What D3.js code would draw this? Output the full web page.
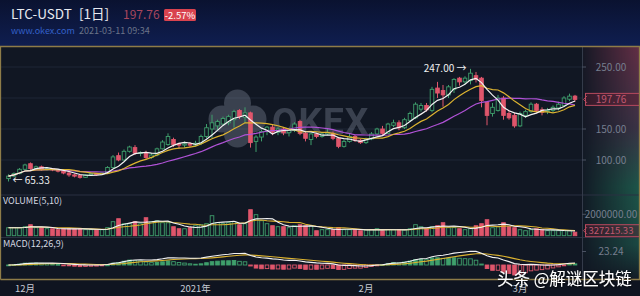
<!DOCTYPE html>
<html>
<head>
<meta charset="utf-8">
<script src="https://cdn.jsdelivr.net/npm/d3@7"></script>
<style>
  html, body { margin: 0; padding: 0; background: #0f1420; }
  svg { display: block; font-family: "Noto Sans CJK SC", "Noto Sans", sans-serif; }
</style>
</head>
<body>
<svg id="chart"></svg>
<script>
// LTC-USDT daily candles, 2020-11-28 .. 2021-03-11
const dates = d3.utcDay.range(new Date(Date.UTC(2020, 10, 28)), new Date(Date.UTC(2021, 2, 12)));

const opens = [70,74,78,85,94,86,89,85,86,84, 82,79,76,75,72,76,78,77,79,88,
  107,100,114,120,111,112,104,108,118,125, 133,126,124,126,124,127,138,150,155,158,
  160,165,180,169,176,130,137,146,153,145, 150,144,148,162,143,133,142,138,142,143,
  135,122,130,138,132,128,134,142,150,143, 156,160,152,164,168,182,188,180,216,212,
  205,214,232,226,228,236,232,193,175,180, 200,175,172,155,172,178,190,181,178,180,
  184,188,198,203];
const highs = [77,80,87,94,96,91,91,88,87,85, 84,81,78,76,77,80,79,80,90,108,
  112,117,123,124,114,115,111,120,132,143, 136,128,130,129,131,141,158,173,165,170,
  173,181,182,185,178,140,149,155,158,153, 153,150,161,165,145,144,144,145,150,146,
  137,133,142,140,134,136,145,152,155,160, 165,164,168,178,193,192,192,218,226,221,
  221,232,234,235,247,242,234,195,192,205, 203,180,176,178,181,193,192,185,184,188,
  194,203,207,205];
const lows = [65.33,72,77,83,84,84,83,83,82,80, 77,73,72,70,71,75,75,76,78,87,
  98,99,112,108,106,100,102,106,117,123, 121,118,120,121,122,124,135,135,148,155,
  156,152,166,160,120,113,130,140,140,140, 140,138,145,140,130,124,135,136,140,132,
  119,120,128,129,126,126,132,140,140,142, 153,148,150,162,166,178,178,177,200,186,
  200,208,220,222,222,225,185,156,170,178, 165,165,152,153,168,176,176,172,174,177,
  180,186,195,194];
const closes = [74,78,85,92,86,89,85,86,84,82, 79,76,74,72,76,78,77,79,88,105,
  100,114,121,111,112,104,108,118,129,138, 125,124,126,124,127,138,152,160,162,167,
  170,178,170,176,128,137,146,153,145,150, 144,148,158,143,135,142,138,142,144,135,
  122,130,138,132,128,134,142,150,143,158, 160,152,165,175,190,188,181,214,208,205,
  218,230,226,232,240,230,196,172,185,200, 172,168,155,175,178,190,180,177,180,185,
  190,200,203,197.76];
const volumes = [748000,752000,745000,841000,1028000,748000,750000,654000,650000,561000,
  654000,658000,650000,656000,561000,565000,560000,558000,748000,1308000,
  1589000,1121000,1125000,1308000,1121000,1682000,1308000,1402000,1215000,1210000,
  841000,654000,650000,748000,935000,1028000,1121000,1869000,1215000,1121000,
  1215000,1308000,1028000,1121000,2430000,1963000,1402000,1121000,935000,841000,
  845000,748000,935000,1028000,935000,930000,467000,561000,565000,560000,
  748000,561000,558000,562000,467000,561000,565000,654000,470000,561000,
  560000,565000,561000,654000,1028000,841000,654000,841000,935000,1215000,
  748000,752000,654000,561000,654000,935000,1121000,1495000,748000,841000,
  1215000,841000,748000,561000,467000,561000,654000,561000,467000,470000,
  467000,470000,465000,327215.33];

const monthTicks = [Date.UTC(2020, 11, 1), Date.UTC(2021, 0, 1), Date.UTC(2021, 1, 1), Date.UTC(2021, 2, 1)];
const monthLabels = ["12月", "2021年", "2月", "3月"];
const priceGrid = [250, 200, 150, 100];
const priceTicks = [250, 150, 100];
const volumeTicks = [2000000];
const macdTicks = [23.24];

const width = 640;
const height = 296;
const axisX = 582;
const up = "#3f9f6c", down = "#e0566c";
const bg = "#111723";

const x = d3.scaleUtc([Date.UTC(2020, 11, 1), Date.UTC(2021, 2, 1)], [25, 520]);
const y = d3.scaleLinear([100, 250], [160, 67]);
const yVol = d3.scaleLinear([0, 2000000], [235.7, 214.3]);
const yMacd = d3.scaleLinear([0, 23.24], [265, 251.5]);

const candles = dates.map((d, i) => ({
  date: d, o: opens[i], h: highs[i], l: lows[i], c: closes[i], v: volumes[i]
}));

// indicators
const sma = (vals, n) => vals.map((v, i) => d3.mean(vals.slice(Math.max(0, i - n + 1), i + 1)));
const ema = (vals, n) => { const k = 2 / (n + 1); let p; return vals.map((v, i) => p = i ? v * k + p * (1 - k) : v); };
const ema12 = ema(closes, 12), ema26 = ema(closes, 26);
const dif = ema12.map((v, i) => v - ema26[i]);
const dea = ema(dif, 9);
const hist = dif.map((v, i) => 2 * (v - dea[i]));

const svg = d3.select("#chart")
  .attr("width", width)
  .attr("height", height)
  .attr("viewBox", [0, 0, width, height]);

const defs = svg.append("defs");
const hg = defs.append("linearGradient").attr("id", "hdr").attr("x1", 0).attr("y1", 0).attr("x2", 0).attr("y2", 1);
hg.append("stop").attr("offset", 0).attr("stop-color", "#0a1230");
hg.append("stop").attr("offset", 1).attr("stop-color", "#0f1e50");
const ag = defs.append("linearGradient").attr("id", "axisV").attr("x1", 0).attr("y1", 0).attr("x2", 0).attr("y2", 1);
[[0, "#6a3048"], [0.35, "#3e3548"], [0.6, "#1f5a4c"], [0.85, "#1c4c45"], [1, "#141c26"]]
  .forEach(([o, c]) => ag.append("stop").attr("offset", o).attr("stop-color", c));
const fg = defs.append("linearGradient").attr("id", "fadeH");
fg.append("stop").attr("offset", 0).attr("stop-color", "#fff").attr("stop-opacity", 0.05);
fg.append("stop").attr("offset", 1).attr("stop-color", "#fff").attr("stop-opacity", 0.95);
defs.append("mask").attr("id", "fadeMask")
  .append("rect").attr("x", axisX).attr("y", 46).attr("width", width - axisX).attr("height", 234).attr("fill", "url(#fadeH)");
defs.append("filter").attr("id", "shadow")
  .append("feDropShadow").attr("dx", 0.6).attr("dy", 0.6).attr("stdDeviation", 0.8)
  .attr("flood-color", "#000").attr("flood-opacity", 0.9);

// backgrounds
svg.append("rect").attr("width", width).attr("height", 46).attr("fill", "url(#hdr)");
svg.append("rect").attr("y", 46).attr("width", width).attr("height", 234).attr("fill", bg);
svg.append("rect").attr("x", axisX).attr("y", 46).attr("width", width - axisX).attr("height", 234)
  .attr("fill", "url(#axisV)").attr("mask", "url(#fadeMask)");

// header
svg.append("text").attr("x", 11).attr("y", 19).attr("fill", "#e8eaf0").attr("font-size", 13.5).text("LTC-USDT");
svg.append("text").attr("x", 79).attr("y", 19).attr("fill", "#e8eaf0").attr("font-size", 13.5).text("[1日]");
svg.append("text").attr("x", 123).attr("y", 19).attr("fill", "#a8465e").attr("font-size", 12)
  .text(d3.format(".2f")(closes[closes.length - 1]));
svg.append("rect").attr("x", 164).attr("y", 9).attr("width", 32).attr("height", 12).attr("rx", 1.5).attr("fill", "#d9434f");
svg.append("text").attr("x", 180).attr("y", 18.5).attr("text-anchor", "middle").attr("fill", "#fff")
  .attr("font-size", 9.5).text("-2.57%");
svg.append("text").attr("x", 11).attr("y", 34).attr("fill", "#3360c8").attr("font-size", 9).text("www.okex.com");
svg.append("text").attr("x", 79).attr("y", 34).attr("fill", "#6b7488").attr("font-size", 9).text("2021-03-11 09:34");

// grid
svg.append("g").selectAll("line").data(priceGrid).join("line")
  .attr("x1", 1).attr("x2", axisX).attr("y1", d => y(d)).attr("y2", d => y(d))
  .attr("stroke", "#1e2636").attr("stroke-width", 1);
svg.append("g").selectAll("line").data([195, 237.5]).join("line")
  .attr("x1", 1).attr("x2", width).attr("y1", d => d).attr("y2", d => d)
  .attr("stroke", "#2a3142").attr("stroke-width", 1);
svg.append("line").attr("x1", axisX + 0.5).attr("x2", axisX + 0.5).attr("y1", 46).attr("y2", 280)
  .attr("stroke", "#343b4a");

// OKEX watermark
const wm = svg.append("g").attr("opacity", 0.3).attr("fill", "#9aa3b4");
[[237.5, 103], [222, 119], [253, 119], [237.5, 134], [237.5, 119]].forEach(([cx, cy]) =>
  wm.append("circle").attr("cx", cx).attr("cy", cy).attr("r", 13.5));
wm.append("text").attr("x", 272).attr("y", 134).attr("font-size", 37).attr("font-weight", 700)
  .attr("font-family", "Roboto, sans-serif").attr("letter-spacing", 1).text("OKEX");

// candles
const bw = 3.6;
const cg = svg.append("g");
cg.selectAll("line").data(candles).join("line")
  .attr("x1", d => x(d.date)).attr("x2", d => x(d.date))
  .attr("y1", d => y(d.h)).attr("y2", d => y(d.l))
  .attr("stroke", d => d.c >= d.o ? up : down).attr("stroke-width", 1);
cg.selectAll("rect").data(candles).join("rect")
  .attr("x", d => x(d.date) - bw / 2)
  .attr("y", d => y(Math.max(d.o, d.c)))
  .attr("width", bw)
  .attr("height", d => Math.max(1, Math.abs(y(d.o) - y(d.c))))
  .attr("fill", d => d.c >= d.o ? bg : down)
  .attr("stroke", d => d.c >= d.o ? up : down).attr("stroke-width", 0.9);

// price moving averages
const maLine = (vals, sc) => d3.line().x((v, i) => x(dates[i])).y(v => sc(v))(vals);
[[sma(closes, 20), "#b052d6"], [sma(closes, 10), "#dcb330"], [sma(closes, 5), "#f2f2f2"]].forEach(([vals, c]) =>
  svg.append("path").attr("d", maLine(vals, y)).attr("fill", "none").attr("stroke", c).attr("stroke-width", 1.2));

// high / low markers
const hi = d3.maxIndex(highs), lo = d3.minIndex(lows);
svg.append("text").attr("x", x(dates[hi]) - 4).attr("y", y(highs[hi]) + 3.5).attr("text-anchor", "end")
  .attr("fill", "#f0f0f0").attr("font-size", 10).text(d3.format(".2f")(highs[hi]) + " →");
svg.append("text").attr("x", x(dates[lo]) + 4).attr("y", y(lows[lo]) + 3).attr("text-anchor", "start")
  .attr("fill", "#f0f0f0").attr("font-size", 10).text("← " + d3.format(".2f")(lows[lo]));

// volume
svg.append("text").attr("x", 3).attr("y", 204).attr("fill", "#d4d8e0").attr("font-size", 9).text("VOLUME(5,10)");
svg.append("g").selectAll("rect").data(candles).join("rect")
  .attr("x", d => x(d.date) - bw / 2)
  .attr("y", d => yVol(d.v))
  .attr("width", bw)
  .attr("height", d => yVol(0) - yVol(d.v))
  .attr("fill", d => d.c >= d.o ? bg : down)
  .attr("stroke", d => d.c >= d.o ? up : down).attr("stroke-width", 0.9);
[[sma(volumes, 10), "#dcb330"], [sma(volumes, 5), "#f2f2f2"]].forEach(([vals, c]) =>
  svg.append("path").attr("d", maLine(vals, yVol)).attr("fill", "none").attr("stroke", c).attr("stroke-width", 1.1));

// MACD
svg.append("text").attr("x", 3).attr("y", 247).attr("fill", "#d4d8e0").attr("font-size", 9).text("MACD(12,26,9)");
svg.append("g").selectAll("rect").data(hist).join("rect")
  .attr("x", (v, i) => x(dates[i]) - bw / 2)
  .attr("y", v => yMacd(Math.max(0, v)))
  .attr("width", bw)
  .attr("height", v => Math.max(0.8, Math.abs(yMacd(v) - yMacd(0))))
  .attr("fill", (v, i) => i && Math.abs(v) < Math.abs(hist[i - 1]) ? bg : (v >= 0 ? up : down))
  .attr("stroke", v => v >= 0 ? up : down).attr("stroke-width", 0.9);
[[dea, "#dcb330"], [dif, "#f2f2f2"]].forEach(([vals, c]) =>
  svg.append("path").attr("d", maLine(vals, yMacd)).attr("fill", "none").attr("stroke", c).attr("stroke-width", 1.1));

// right axis labels
const fmt = d3.format(".2f");
const axisLabels = [
  ...priceTicks.map(v => [y(v), fmt(v)]),
  ...volumeTicks.map(v => [yVol(v), fmt(v)]),
  ...macdTicks.map(v => [yMacd(v), fmt(v)])
];
svg.append("g").selectAll("line").data(axisLabels).join("line")
  .attr("x1", axisX).attr("x2", axisX + 4).attr("y1", d => d[0]).attr("y2", d => d[0]).attr("stroke", "#4a5262");
svg.append("g").selectAll("text").data(axisLabels).join("text")
  .attr("x", 611).attr("y", d => d[0] + 3.5).attr("text-anchor", "middle")
  .attr("fill", "#767e8e").attr("font-size", 10).text(d => d[1]);

// last value boxes
const lastBox = (yy, label, fs) => {
  svg.append("rect").attr("x", 585.5).attr("y", yy - 6).attr("width", 54).attr("height", 12)
    .attr("fill", "rgba(110,30,50,0.35)").attr("stroke", "#b84a5e");
  svg.append("path").attr("d", `M587,${yy - 3.5}L583.5,${yy}L587,${yy + 3.5}`).attr("fill", "none").attr("stroke", "#b84a5e");
  svg.append("text").attr("x", 611).attr("y", yy + 3.5).attr("text-anchor", "middle")
    .attr("fill", "#c25870").attr("font-size", fs).text(label);
};
lastBox(y(closes[closes.length - 1]), fmt(closes[closes.length - 1]), 10);
lastBox(yVol(volumes[volumes.length - 1]) - 1.5, fmt(volumes[volumes.length - 1]), 9.5);

// frame
svg.append("path").attr("d", "M0.5,279.5V46.5H639.5V279.5H0.5")
  .attr("fill", "none").attr("stroke", "#8e7c48").attr("stroke-width", 1.3);

// x axis labels
svg.append("g").selectAll("text").data(monthTicks).join("text")
  .attr("x", d => x(d)).attr("y", 292).attr("text-anchor", "middle")
  .attr("fill", "#c6cad2").attr("font-size", 9.5).text((d, i) => monthLabels[i]);

// source watermark (drawn over the axis, as in the screenshot)
svg.append("text").attr("x", 497).attr("y", 285).attr("fill", "#ffffff").attr("font-size", 16.5)
  .attr("filter", "url(#shadow)").text("头条 @解谜区块链");
</script>
</body>
</html>
